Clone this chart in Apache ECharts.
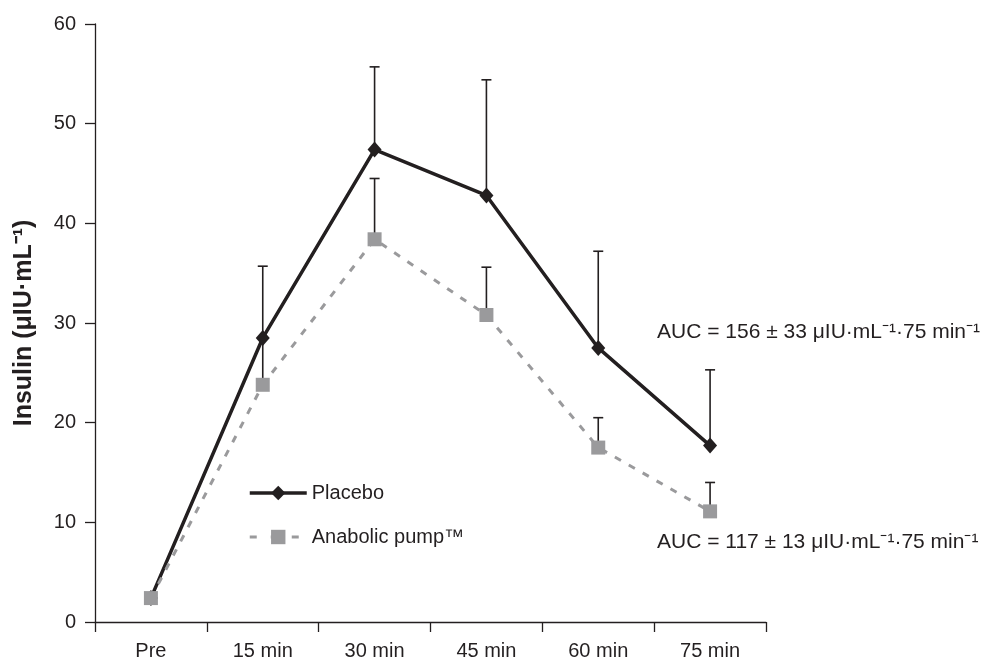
<!DOCTYPE html>
<html>
<head>
<meta charset="utf-8">
<script src="https://cdn.jsdelivr.net/npm/echarts@6/dist/echarts.min.js"></script>
<style>
  html, body { margin: 0; padding: 0; background: #fff; }
  #chart { width: 984px; height: 661px; }
</style>
</head>
<body>
<div id="chart"></div>
<script>
// 时间点
const categories = ['Pre', '15 min', '30 min', '45 min', '60 min', '75 min']
// 均值
const placebo = [2.4, 28.5, 47.4, 42.8, 27.5, 17.7]
const anabolic = [2.4, 23.8, 38.4, 30.8, 17.5, 11.1]
// 误差线上端（均值 + SD）
const placeboUpper = [2.4, 35.7, 55.7, 54.4, 37.2, 25.3]
const anabolicUpper = [2.4, 28.4, 44.5, 35.6, 20.5, 14.0]
const yTicks = [0, 10, 20, 30, 40, 50, 60]

const FONT = 'Liberation Sans, Arial, sans-serif'
const INK = '#231f20'
const GREY = '#9a9a9c'

const chart = echarts.init(document.getElementById('chart'))

// 只画向上的误差线 + 顶部横帽
const errorBar = (params, api) => {
  const x = api.value(0)
  const lo = api.coord([x, api.value(1)])
  const hi = api.coord([x, api.value(2)])
  if (Math.abs(lo[1] - hi[1]) < 1) return
  const style = { stroke: INK, lineWidth: 1.6 }
  return {
    type: 'group',
    children: [
      { type: 'line', shape: { x1: lo[0], y1: lo[1], x2: hi[0], y2: hi[1] }, style },
      { type: 'line', shape: { x1: hi[0] - 5, y1: hi[1], x2: hi[0] + 5, y2: hi[1] }, style },
    ],
  }
}

const toErr = (mean, upper) => mean.map((v, i) => [i, v, upper[i]])

chart.setOption({
  animation: false,
  textStyle: { fontFamily: FONT },
  grid: { left: 95, right: 218, top: 24, bottom: 38 },
  legend: {
    orient: 'vertical',
    left: 243,
    top: 478,
    itemWidth: 57,
    itemHeight: 18,
    itemGap: 24,
    data: [
      { name: 'Placebo', lineStyle: { width: 3.5, color: INK } },
      { name: 'Anabolic pump™', lineStyle: { width: 3, color: GREY, type: [7, 14] } },
    ],
    textStyle: { color: INK, fontSize: 20 },
  },
  xAxis: {
    type: 'category',
    data: categories,
    boundaryGap: true,
    axisLine: { lineStyle: { color: INK, width: 1.3 } },
    axisTick: { show: true, length: 10, interval: 0, lineStyle: { color: INK, width: 1.3 } },
    axisLabel: { color: INK, fontSize: 20, margin: 19 },
    splitLine: { show: false },
  },
  yAxis: {
    type: 'value',
    min: yTicks[0],
    max: yTicks[yTicks.length - 1],
    interval: 10,
    name: 'Insulin (μIU·mL⁻¹)',
    nameLocation: 'middle',
    nameGap: 58,
    nameTextStyle: { color: INK, fontSize: 25, fontWeight: 'bold' },
    axisLine: { show: true, lineStyle: { color: INK, width: 1.3 } },
    axisTick: { show: true, length: 10, lineStyle: { color: INK, width: 1.3 } },
    axisLabel: { color: INK, fontSize: 20, margin: 19 },
    splitLine: { show: false },
  },
  series: [
    {
      type: 'custom',
      renderItem: errorBar,
      data: toErr(placebo, placeboUpper),
      encode: { x: 0, y: [1, 2] },
      z: 1,
      silent: true,
    },
    {
      type: 'custom',
      renderItem: errorBar,
      data: toErr(anabolic, anabolicUpper),
      encode: { x: 0, y: [1, 2] },
      z: 1,
      silent: true,
    },
    {
      name: 'Placebo',
      type: 'line',
      data: placebo,
      symbol: 'diamond',
      symbolSize: [14, 16],
      itemStyle: { color: INK },
      lineStyle: { color: INK, width: 3.5 },
      z: 2,
    },
    {
      name: 'Anabolic pump™',
      type: 'line',
      data: anabolic,
      symbol: 'rect',
      symbolSize: 14,
      itemStyle: { color: GREY },
      lineStyle: { color: GREY, width: 3, type: [7, 9] },
      z: 3,
    },
  ],
  graphic: [
    {
      type: 'text',
      left: 657,
      top: 322,
      style: { text: 'AUC = 156 ± 33 μIU·mL⁻¹·75 min⁻¹', fill: INK, fontSize: 21, fontFamily: FONT },
    },
    {
      type: 'text',
      left: 657,
      top: 532,
      style: { text: 'AUC = 117 ± 13 μIU·mL⁻¹·75 min⁻¹', fill: INK, fontSize: 21, fontFamily: FONT },
    },
  ],
})

window.addEventListener('resize', () => chart.resize())
</script>
</body>
</html>
